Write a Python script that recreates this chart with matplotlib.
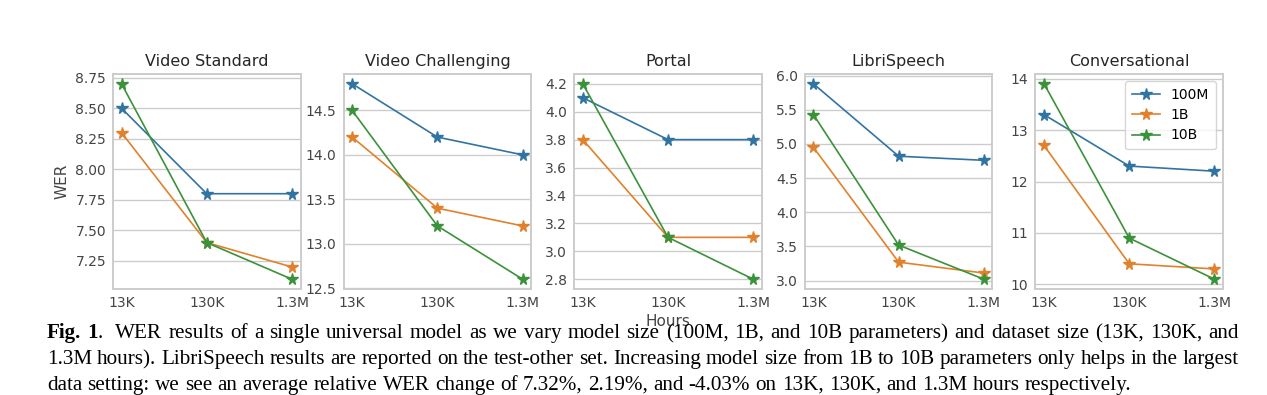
"""WER vs. training hours for three model sizes, five test sets."""

import matplotlib

matplotlib.use("Agg")

import matplotlib.pyplot as plt

W_PX, H_PX, DPI = 1267, 395, 100

HOURS = ["13K", "130K", "1.3M"]
MODELS = ["100M", "1B", "10B"]
TITLES = ["Video Standard", "Video Challenging", "Portal", "LibriSpeech", "Conversational"]

# one list per model size, values in order 13K, 130K, 1.3M
VIDEO_STANDARD = [[8.5, 7.8, 7.8], [8.3, 7.4, 7.2], [8.7, 7.4, 7.1]]
VIDEO_CHALLENGING = [[14.8, 14.2, 14.0], [14.2, 13.4, 13.2], [14.5, 13.2, 12.6]]
PORTAL = [[4.1, 3.8, 3.8], [3.8, 3.1, 3.1], [4.2, 3.1, 2.8]]
LIBRISPEECH = [[5.88, 4.82, 4.76], [4.95, 3.27, 3.11], [5.43, 3.52, 3.02]]
CONVERSATIONAL = [[13.3, 12.3, 12.2], [12.7, 10.4, 10.3], [13.9, 10.9, 10.1]]

# y tick labels as printed on each panel
YTICKS = [
    ["7.25", "7.50", "7.75", "8.00", "8.25", "8.50", "8.75"],
    ["12.5", "13.0", "13.5", "14.0", "14.5"],
    ["2.8", "3.0", "3.2", "3.4", "3.6", "3.8", "4.0", "4.2"],
    ["3.0", "3.5", "4.0", "4.5", "5.0", "5.5", "6.0"],
    ["10", "11", "12", "13", "14"],
]

COLORS = ["#3274a1", "#e1812c", "#3a923a"]

CAPTION_LINES = [
    "WER results of a single universal model as we vary model size (100M, 1B, and 10B parameters) "
    "and dataset size (13K, 130K, and",
    "1.3M hours). LibriSpeech results are reported on the test-other set. Increasing model size "
    "from 1B to 10B parameters only helps in the largest",
    "data setting: we see an average relative WER change of 7.32%, 2.19%, and -4.03% on 13K, 130K, "
    "and 1.3M hours respectively.",
]


def text_width(fig, renderer, s, **kw):
    t = fig.text(0, 0, s, **kw)
    w = t.get_window_extent(renderer).width
    t.remove()
    return w


def draw_caption(fig):
    renderer = fig.canvas.get_renderer()
    font = dict(family="Liberation Serif", fontsize=15.2, color="black")
    x_left, x_right = 47.0, 1239.0
    baselines = [338.0, 364.0, 390.0]

    space = text_width(fig, renderer, "a a", **font) - text_width(fig, renderer, "aa", **font)
    for i, line in enumerate(CAPTION_LINES):
        words = [[(w, "normal")] for w in line.split()]
        if i == 0:
            words = [[("Fig.", "bold")], [("1", "bold"), (".", "normal")], [("", "normal")]] + words
        widths = [[text_width(fig, renderer, s, fontweight=wt, **font) for s, wt in word] for word in words]
        total = sum(sum(ws) for ws in widths)
        if i < len(CAPTION_LINES) - 1:
            gap = (x_right - x_left - total) / (len(words) - 1)
        else:
            gap = space
        x = x_left
        y = 1 - baselines[i] / H_PX
        for word, ws in zip(words, widths):
            for (s, wt), w in zip(word, ws):
                fig.text(x / W_PX, y, s, fontweight=wt, va="baseline", ha="left", zorder=5, **font)
                x += w
            x += gap


def main():
    plt.rcParams["font.family"] = "DejaVu Sans"
    fig, axes = plt.subplots(1, 5, figsize=(W_PX / DPI, H_PX / DPI), dpi=DPI)
    fig.subplots_adjust(
        left=113 / W_PX, right=1223 / W_PX, top=1 - 74 / H_PX, bottom=1 - 289 / H_PX, wspace=43 / 187
    )

    datasets = [VIDEO_STANDARD, VIDEO_CHALLENGING, PORTAL, LIBRISPEECH, CONVERSATIONAL]
    for ax, title, data, ticks in zip(axes, TITLES, datasets, YTICKS):
        for values, name, color in zip(data, MODELS, COLORS):
            ax.plot(HOURS, values, marker="*", markersize=8.5, lw=1.2, color=color, label=name)
        ax.set_yticks([float(t) for t in ticks], ticks)
        ax.set_title(title, fontsize=11.5, color="#262626", pad=6)
        ax.grid(axis="y", color="#cccccc", lw=1.0)
        ax.set_axisbelow(True)
        ax.tick_params(axis="both", length=0, labelsize=10, labelcolor="#444444", pad=5)
        for spine in ax.spines.values():
            spine.set_color("#cccccc")
            spine.set_linewidth(1.4)

    axes[0].set_ylabel("WER", fontsize=11, color="#444444")
    axes[2].set_xlabel("Hours", fontsize=11, color="#444444", labelpad=3)
    axes[4].legend(loc="upper right", fontsize=10, edgecolor="#cccccc", handlelength=2.0,
                   borderpad=0.5, labelspacing=0.45)

    draw_caption(fig)
    fig.savefig("out.png", dpi=DPI)
    plt.close(fig)


if __name__ == "__main__":
    main()
